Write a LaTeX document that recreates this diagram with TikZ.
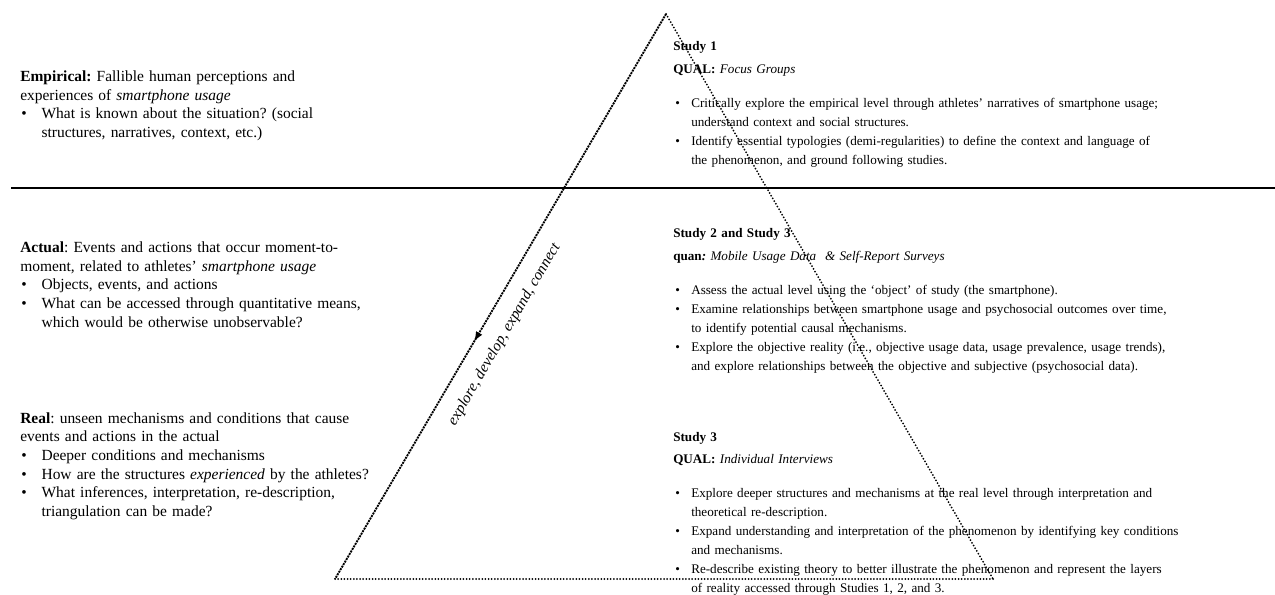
\documentclass[tikz,border=0pt]{standalone}
\usepackage{fontspec}
\setmainfont{Liberation Serif}
\usetikzlibrary{arrows.meta,decorations.markings}
% bullets: left column and right column, with their hanging indents
\newcommand\lb{\makebox[16pt][l]{\hspace{0.8pt}\textbullet}}
\newcommand\lc{\hspace*{16pt}}
\newcommand\rb{\makebox[13.5pt][l]{\hspace{1.5pt}\textbullet}}
\newcommand\rc{\hspace*{13.5pt}}
\frenchspacing
\begin{document}
\begin{tikzpicture}[x=0.75pt,y=-0.75pt,
  ltxt/.style={anchor=base west, inner sep=0pt, align=left, text width=620pt,
    font=\fontsize{11.6}{14}\selectfont},
  rtxt/.style={anchor=base west, inner sep=0pt, align=left, text width=620pt,
    font=\fontsize{9.85}{14.25}\selectfont},
  sidedash/.style={line width=1.4pt, dash pattern=on 1.5pt off 0.7pt},
  sidedot/.style={line width=1.5pt, line cap=round, dash pattern=on 0pt off 2.35pt},
  divider/.style={line width=1.4pt}]
\useasboundingbox[fill=white] (0,0) rectangle (1275,595);

% level divider
\coordinate (dl) at (11,188);
\coordinate (dr) at (1275,188);
\draw[divider] (dl) -- (dr);

% triangle of the three levels
\coordinate (apex) at (666,14);
\coordinate (bl) at (335,579);
\coordinate (br) at (993,579);
\draw[sidedash, postaction={decorate, decoration={markings,
    mark=at position 0.58 with {\arrow{Latex[length=7.5pt,width=5.5pt]}}}}]
  (apex) -- (bl);
\draw[sidedot] (apex) -- (br);
\draw[sidedot] (bl) -- (br);
\node[rotate=59.7, inner sep=0pt, font=\fontsize{11.5}{13}\selectfont\itshape]
  (flow) at (504.5,334.5) {explore, develop, expand, connect};

% left column: levels of reality
\node[ltxt] (emp) at (20,81.5) {%
\textbf{Empirical:} Fallible human perceptions and\\
experiences of \textit{smartphone usage}\\
\lb What is known about the situation? (social\\
\lc structures, narratives, context, etc.)};

\node[ltxt] (act) at (20,252.5) {%
\textbf{Actual}: Events and actions that occur moment-to-\\
moment, related to athletes’ \textit{smartphone usage}\\
\lb Objects, events, and actions\\
\lb What can be accessed through quantitative means,\\
\lc which would be otherwise unobservable?};

\node[ltxt] (real) at (20,423) {%
\textbf{Real}: unseen mechanisms and conditions that cause\\
events and actions in the actual\\
\lb Deeper conditions and mechanisms\\
\lb How are the structures \textit{experienced} by the athletes?\\
\lb What inferences, interpretation, re-description,\\
\lc triangulation can be made?};

% right column: studies
\node[rtxt] (s1) at (673,51) {%
\textbf{Study 1}\\[2.6pt]
\textbf{QUAL:} \textit{Focus Groups}\\[11.6pt]
\rb Critically explore the empirical level through athletes’ narratives of smartphone usage;\\
\rc understand context and social structures.\\
\rb Identify essential typologies (demi-regularities) to define the context and language of\\
\rc the phenomenon, and ground following studies.};

\node[rtxt] (s2) at (673,238) {%
\textbf{Study 2 and Study 3}\\[2.6pt]
\textbf{quan\textit{:}} \textit{Mobile Usage Data\ \ \& Self-Report Surveys}\\[11.6pt]
\rb Assess the actual level using the ‘object’ of study (the smartphone).\\
\rb Examine relationships between smartphone usage and psychosocial outcomes over time,\\
\rc to identify potential causal mechanisms.\\
\rb Explore the objective reality (i.e., objective usage data, usage prevalence, usage trends),\\
\rc and explore relationships between the objective and subjective (psychosocial data).};

\node[rtxt] (s3) at (673,441) {%
\textbf{Study 3}\\[2.6pt]
\textbf{QUAL:} \textit{Individual Interviews}\\[11.6pt]
\rb Explore deeper structures and mechanisms at the real level through interpretation and\\
\rc theoretical re-description.\\
\rb Expand understanding and interpretation of the phenomenon by identifying key conditions\\
\rc and mechanisms.\\
\rb Re-describe existing theory to better illustrate the phenomenon and represent the layers\\
\rc of reality accessed through Studies 1, 2, and 3.};
\end{tikzpicture}
\end{document}
